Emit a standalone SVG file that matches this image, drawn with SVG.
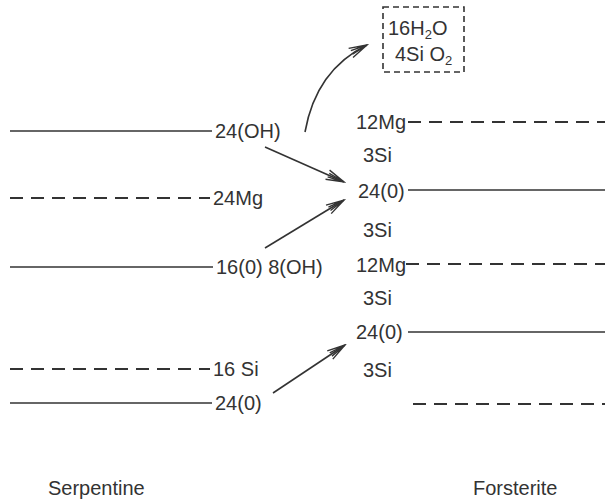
<svg xmlns="http://www.w3.org/2000/svg" width="605" height="501" viewBox="0 0 605 501">
<style>
  text { font-family: "Liberation Sans", Arial, sans-serif; font-size: 20px; fill: #333; }
  .solid { stroke: #333; stroke-width: 1.6; fill: none; }
  .dash { stroke: #333; stroke-width: 1.8; fill: none; stroke-dasharray: 13 8; }
  .box { stroke: #333; stroke-width: 1.6; fill: none; stroke-dasharray: 6 4; }
  .arrow { stroke: #333; stroke-width: 1.6; fill: none; marker-end: url(#head); }
  .sub { font-size: 13px; }
</style>
<defs>
  <marker id="head" viewBox="-20 -7 22 14" refX="0" refY="0" markerWidth="22" markerHeight="14" markerUnits="userSpaceOnUse" orient="auto">
    <path d="M-18,-5 L0,0 L-18,5 M-17,-2 L0,0 L-17,2" stroke="#333" stroke-width="1.4" fill="none"/>
  </marker>
</defs>
<rect width="605" height="501" fill="#fff"/>

<g id="serpentine">
  <g id="s-24OH"><line class="solid" x1="10" y1="131" x2="212" y2="131"/><text x="215" y="138">24(OH)</text></g>
  <g id="s-24Mg"><line class="dash" x1="10" y1="198" x2="210" y2="198"/><text x="213" y="205">24Mg</text></g>
  <g id="s-16O8OH"><line class="solid" x1="10" y1="267" x2="213" y2="267"/><text x="216" y="274">16(0) 8(OH)</text></g>
  <g id="s-16Si"><line class="dash" x1="10" y1="369" x2="210" y2="369"/><text x="213" y="376">16 Si</text></g>
  <g id="s-24O"><line class="solid" x1="10" y1="403" x2="212" y2="403"/><text x="215" y="410">24(0)</text></g>
  <text id="serpentine-label" x="48" y="495">Serpentine</text>
</g>

<g id="forsterite">
  <g id="f-12Mg-a"><text x="356" y="129">12Mg</text><line class="dash" x1="408" y1="122" x2="605" y2="122"/></g>
  <g id="f-3Si-a"><text x="363" y="162">3Si</text></g>
  <g id="f-24O-a"><text x="358" y="198">24(0)</text><line class="solid" x1="408" y1="190" x2="605" y2="190"/></g>
  <g id="f-3Si-b"><text x="363" y="237">3Si</text></g>
  <g id="f-12Mg-b"><text x="356" y="272">12Mg</text><line class="dash" x1="406" y1="264" x2="605" y2="264"/></g>
  <g id="f-3Si-c"><text x="363" y="305">3Si</text></g>
  <g id="f-24O-b"><text x="356" y="339">24(0)</text><line class="solid" x1="408" y1="332" x2="605" y2="332"/></g>
  <g id="f-3Si-d"><text x="363" y="377">3Si</text></g>
  <g id="f-bottom"><line class="dash" x1="413" y1="404" x2="605" y2="404"/></g>
  <text id="forsterite-label" x="473" y="495">Forsterite</text>
</g>

<g id="products">
  <rect class="box" x="383" y="7" width="81" height="65"/>
  <text x="388" y="35">16H<tspan class="sub" dy="4">2</tspan><tspan dy="-4">O</tspan></text>
  <text x="395" y="61">4Si O<tspan class="sub" dy="4">2</tspan></text>
</g>

<g id="connectors">
  <path class="arrow" d="M305,132 Q316,70 367,45"/>
  <line class="arrow" x1="265" y1="147" x2="344" y2="182"/>
  <line class="arrow" x1="265" y1="248" x2="344" y2="200"/>
  <line class="arrow" x1="273" y1="393" x2="345" y2="345"/>
</g>
</svg>
